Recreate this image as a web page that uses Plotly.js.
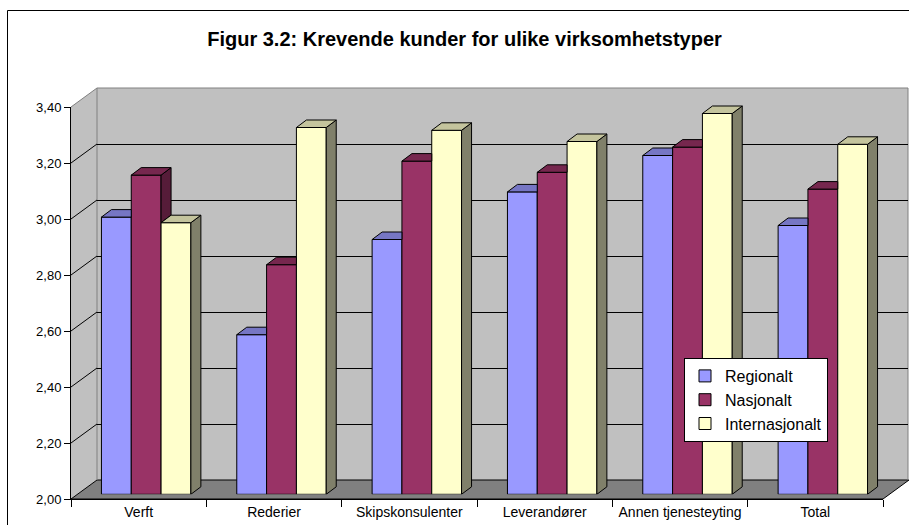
<!DOCTYPE html>
<html>
<head>
<meta charset="utf-8">
<script src="https://cdn.plot.ly/plotly-3.0.1.min.js"></script>
<style>html,body{margin:0;padding:0;background:#fff;overflow:hidden}#chart{width:909px;height:525px}</style>
</head>
<body>
<div id="chart"></div>
<script>
// ---- data ----
const categories = ["Verft", "Rederier", "Skipskonsulenter", "Leverandører", "Annen tjenesteyting", "Total"];
const regionalt = [2.99, 2.57, 2.91, 3.08, 3.21, 2.96];
const nasjonalt = [3.14, 2.82, 3.19, 3.15, 3.24, 3.09];
const internasjonalt = [2.97, 3.31, 3.30, 3.26, 3.36, 3.25];
const seriesNames = ["Regionalt", "Nasjonalt", "Internasjonalt"];
const yTicks = [2.0, 2.2, 2.4, 2.6, 2.8, 3.0, 3.2, 3.4];
const titleText = "Figur 3.2: Krevende kunder for ulike virksomhetstyper";

// ---- styling / geometry ----
const W = 909, H = 525;
const FONT = "Liberation Sans, Arial, sans-serif";
const front = {l: 71, r: 883, b: 499, t: 107};
const depth = {x: 26, y: 19};
const barShift = {x: 7.5, y: 4.7};
const yMin = 2.0, yMax = 3.4;
const pxPerUnit = (front.b - front.t) / (yMax - yMin);
const pxPerCat = (front.r - front.l) / categories.length;
const faceColors = [
  {front: "#9999FF", top: "#7676C4", side: "#4D4D80"},
  {front: "#993366", top: "#76274E", side: "#561C39"},
  {front: "#FFFFCC", top: "#C4C49D", side: "#80806A"}
];
const barW = 0.2203;
const offsets = [-1.5 * barW, -0.5 * barW, 0.5 * barW];
const dxU = 10 / pxPerCat, dyU = 7.5 / pxPerUnit;

const px = v => v / W;
const py = v => 1 - v / H;
const idx = categories.map((_, i) => i);
const series = [regionalt, nasjonalt, internasjonalt];

const traces = [];
// invisible helpers so the back-wall and front-axis subplots are drawn
traces.push({type: "scatter", mode: "markers", x: idx, y: regionalt, xaxis: "x", yaxis: "y",
  marker: {opacity: 0}, showlegend: false, hoverinfo: "skip"});
traces.push({type: "scatter", mode: "markers", x: categories, y: regionalt, xaxis: "x2", yaxis: "y2",
  marker: {opacity: 0}, showlegend: false, hoverinfo: "skip"});

// bar front faces
series.forEach((vals, k) => {
  traces.push({
    type: "bar", name: seriesNames[k], legendgroup: seriesNames[k],
    x: idx, y: vals.map(v => v - yMin), base: yMin,
    width: barW, offset: offsets[k],
    xaxis: "x3", yaxis: "y3",
    marker: {color: faceColors[k].front, line: {color: "#000", width: 1}},
    hovertext: vals.map(v => v.toFixed(2)), hoverinfo: "name+text"
  });
});

// 3D top and side faces computed from the data
series.forEach((vals, k) => {
  const tx = [], ty = [], sx = [], sy = [];
  vals.forEach((v, i) => {
    const xl = i + offsets[k], xr = xl + barW;
    const next = k < series.length - 1 ? series[k + 1][i] : null;
    if (next !== null && next > v) {
      tx.push(xl, xl + dxU, xr, xr, xl, null);
      ty.push(v, v + dyU, v + dyU, v, v, null);
    } else {
      tx.push(xl, xl + dxU, xr + dxU, xr, xl, null);
      ty.push(v, v + dyU, v + dyU, v, v, null);
    }
    const lower = next !== null ? Math.max(next, yMin) : yMin;
    if (v > lower) {
      sx.push(xr, xr + dxU, xr + dxU, xr, xr, null);
      sy.push(lower, lower + dyU, v + dyU, v, lower, null);
    }
  });
  traces.push({type: "scatter", mode: "lines", x: sx, y: sy, fill: "toself",
    fillcolor: faceColors[k].side, line: {color: "#000", width: 1},
    xaxis: "x3", yaxis: "y3", showlegend: false, hoverinfo: "skip"});
  traces.push({type: "scatter", mode: "lines", x: tx, y: ty, fill: "toself",
    fillcolor: faceColors[k].top, line: {color: "#000", width: 1},
    xaxis: "x3", yaxis: "y3", showlegend: false, hoverinfo: "skip"});
});

// ---- decoration shapes (walls / floor) ----
const shapes = [];
const poly = pts => "M" + pts.map(p => px(p[0]) + "," + py(p[1])).join(" L") + " Z";
const backR = 908;
// back wall
shapes.push({type: "rect", xref: "paper", yref: "paper", layer: "below",
  x0: px(front.l + depth.x), x1: px(backR), y0: py(front.b - depth.y), y1: py(front.t - depth.y),
  fillcolor: "#C0C0C0", line: {width: 0}});
// side wall
shapes.push({type: "path", xref: "paper", yref: "paper", layer: "below",
  path: poly([[front.l, front.t], [front.l + depth.x, front.t - depth.y], [front.l + depth.x, front.b - depth.y], [front.l, front.b]]),
  fillcolor: "#C0C0C0", line: {width: 0}});
// floor
shapes.push({type: "path", xref: "paper", yref: "paper", layer: "below",
  path: poly([[front.l, front.b], [front.r, front.b], [front.r + depth.x, front.b - depth.y], [front.l + depth.x, front.b - depth.y]]),
  fillcolor: "#808080", line: {color: "#000", width: 1}});
// gray edges of walls
[[front.l, front.t, front.l + depth.x, front.t - depth.y],
 [front.l + depth.x, front.t - depth.y, backR, front.t - depth.y],
 [front.l + depth.x, front.t - depth.y, front.l + depth.x, front.b - depth.y],
 [backR, front.t - depth.y, backR, front.b - depth.y]].forEach(s => {
  shapes.push({type: "line", xref: "paper", yref: "paper", layer: "below",
    x0: px(s[0]), y0: py(s[1]), x1: px(s[2]), y1: py(s[3]), line: {color: "#808080", width: 1}});
});
// side-wall grid diagonals at each tick
yTicks.slice(1, -1).forEach(t => {
  shapes.push({type: "line", xref: "paper", yref: "y2", layer: "below",
    x0: px(front.l), y0: t, x1: px(front.l + depth.x), y1: t + depth.y / pxPerUnit,
    line: {color: "#000", width: 1}});
});
// outer chart border (left and top edges visible)
shapes.push({type: "path", xref: "paper", yref: "paper", layer: "below",
  path: "M" + px(7.5) + "," + py(540) + " L" + px(7.5) + "," + py(10.5) + " L" + px(930) + "," + py(10.5),
  line: {color: "#000", width: 1}, fillcolor: "rgba(0,0,0,0)"});

const layout = {
  width: W, height: H,
  margin: {l: 0, r: 0, t: 0, b: 0, pad: 0},
  paper_bgcolor: "#fff", plot_bgcolor: "rgba(0,0,0,0)",
  separators: ",.",
  font: {family: FONT, color: "#000"},
  showlegend: true,
  barmode: "overlay",
  title: {text: "<b>" + titleText + "</b>", font: {family: FONT, size: 20, color: "#000"},
    x: 464.5 / W, xanchor: "center", xref: "container", y: 1 - 39 / H, yanchor: "middle", yref: "container"},
  // back wall axes (gridlines)
  xaxis: {domain: [px(front.l + depth.x), px(backR)], range: [-0.5, categories.length - 0.5],
    showgrid: false, zeroline: false, showline: false, showticklabels: false, ticks: "", anchor: "y", fixedrange: true},
  yaxis: {domain: [1 - (front.b - depth.y) / H, 1 - (front.t - depth.y) / H], range: [yMin, yMax],
    tickvals: yTicks.slice(0, -1), showgrid: true, gridcolor: "#000", gridwidth: 1,
    zeroline: false, showline: false, showticklabels: false, ticks: "", anchor: "x", fixedrange: true},
  // front axes (ticks and labels)
  xaxis2: {domain: [px(front.l), px(front.r)], anchor: "y2", type: "category",
    categoryorder: "array", categoryarray: categories, range: [-0.5, categories.length - 0.5],
    tickson: "boundaries", ticks: "outside", ticklen: 7, tickcolor: "#000", tickwidth: 1,
    showline: true, linecolor: "#000", linewidth: 1, showgrid: false, zeroline: false,
    tickfont: {family: FONT, size: 14, color: "#000"}, fixedrange: true},
  yaxis2: {domain: [1 - front.b / H, 1 - front.t / H], anchor: "x2", range: [yMin, yMax],
    tickvals: yTicks, tickformat: ".2f", ticks: "outside", ticklen: 6, tickcolor: "#000", tickwidth: 1,
    showline: true, linecolor: "#000", linewidth: 1, showgrid: false, zeroline: false,
    tickfont: {family: FONT, size: 13, color: "#000"}, fixedrange: true},
  // bar plane axes
  xaxis3: {domain: [px(front.l + barShift.x), px(front.r + barShift.x)], anchor: "y3",
    range: [-0.5, categories.length - 0.5], visible: false, fixedrange: true},
  yaxis3: {domain: [1 - (front.b - barShift.y) / H, 1 - (front.t - barShift.y) / H], anchor: "x3",
    range: [yMin, yMax], visible: false, fixedrange: true},
  legend: {x: px(684), y: py(358), xanchor: "left", yanchor: "top",
    bgcolor: "#fff", bordercolor: "#000", borderwidth: 1,
    font: {family: FONT, size: 16, color: "#000"}, tracegroupgap: 3, traceorder: "normal"},
  shapes: shapes
};

Plotly.newPlot("chart", traces, layout, {displayModeBar: false, staticPlot: true});
</script>
</body>
</html>
